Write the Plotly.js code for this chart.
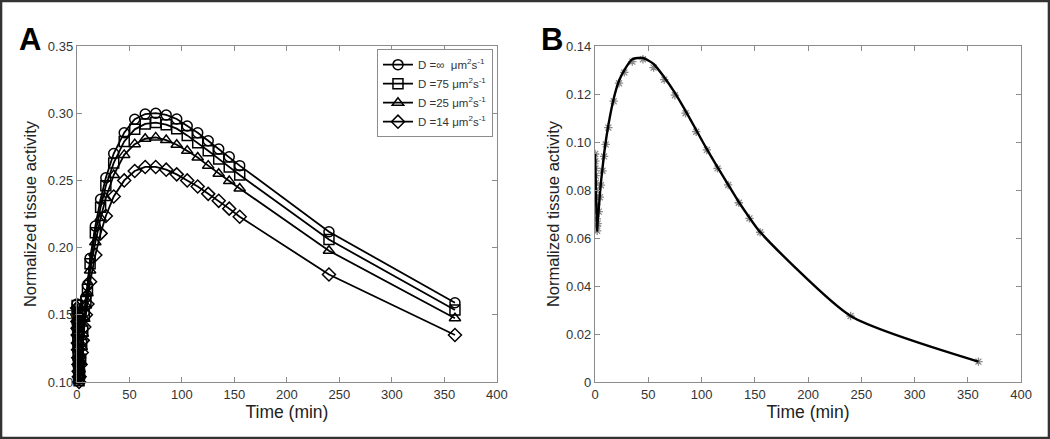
<!DOCTYPE html>
<html>
<head>
<meta charset="utf-8">
<script src="https://cdn.plot.ly/plotly-3.0.1.min.js"></script>
<style>
  html, body { margin: 0; padding: 0; background: #fff; }
  #chart { width: 1050px; height: 439px; }
</style>
</head>
<body>
<div id="chart"></div>
<script>
// Time points (min), shared by both panels
const time = [0.1, 0.25, 0.4, 0.55, 0.7, 0.85, 1.0, 1.2, 1.4, 1.6, 1.8, 2.0,
  2.5, 3.5, 4.5, 5.5, 7, 8.5, 10, 12.5, 17.5, 22.5, 27.5,
  35, 45, 55, 65, 75, 85, 95, 105, 115, 125, 135, 145, 155, 240, 360];

// Panel A: normalized tissue activity for several diffusion coefficients
const seriesNames = ["D =\u221e  \u03bcm<sup>2</sup>s<sup>-1</sup>",
  "D =75 \u03bcm<sup>2</sup>s<sup>-1</sup>",
  "D =25 \u03bcm<sup>2</sup>s<sup>-1</sup>",
  "D =14 \u03bcm<sup>2</sup>s<sup>-1</sup>"];
const seriesSymbols = ["circle-open", "square-open", "triangle-up-open", "diamond-open"];

const dInf = [0.158, 0.153, 0.148, 0.143, 0.138, 0.132, 0.127, 0.121, 0.116, 0.111, 0.106, 0.102,
  0.107, 0.118, 0.130, 0.140, 0.152, 0.163, 0.172, 0.192, 0.216, 0.236, 0.252,
  0.270, 0.2855, 0.2955, 0.2994, 0.300, 0.2987, 0.2957, 0.2905, 0.2855, 0.2795, 0.2734, 0.2676, 0.261, 0.2118, 0.159];
const d75 = [0.157, 0.152, 0.147, 0.142, 0.137, 0.131, 0.126, 0.120, 0.115, 0.110, 0.105, 0.101,
  0.106, 0.117, 0.128, 0.138, 0.150, 0.160, 0.169, 0.188, 0.211, 0.230, 0.246,
  0.263, 0.279, 0.288, 0.292, 0.293, 0.2915, 0.2885, 0.2835, 0.278, 0.272, 0.266, 0.260, 0.254, 0.206, 0.1536];
const d25 = [0.156, 0.151, 0.146, 0.141, 0.136, 0.130, 0.125, 0.119, 0.114, 0.109, 0.104, 0.101,
  0.105, 0.115, 0.126, 0.136, 0.147, 0.157, 0.166, 0.183, 0.204, 0.222, 0.237,
  0.254, 0.269, 0.277, 0.281, 0.282, 0.280, 0.2765, 0.272, 0.267, 0.261, 0.255, 0.2495, 0.244, 0.1977, 0.1474];
const d14 = [0.155, 0.150, 0.145, 0.140, 0.135, 0.129, 0.124, 0.118, 0.113, 0.108, 0.104, 0.100,
  0.104, 0.113, 0.122, 0.131, 0.141, 0.150, 0.158, 0.1746, 0.1945, 0.2106, 0.2235,
  0.238, 0.250, 0.257, 0.260, 0.260, 0.258, 0.2545, 0.250, 0.2455, 0.240, 0.2348, 0.229, 0.223, 0.180, 0.135];

// Panel B: measured activity (markers) and model curve (line)
const measuredB = [0.095, 0.092, 0.089, 0.086, 0.083, 0.080, 0.077, 0.074, 0.071, 0.068, 0.065, 0.063,
  0.066, 0.071, 0.077, 0.082, 0.088, 0.094, 0.099, 0.106, 0.117, 0.1245, 0.129,
  0.1335, 0.1345, 0.131, 0.126, 0.1195, 0.112, 0.1043, 0.0967, 0.089, 0.0821, 0.0747, 0.0682, 0.0624, 0.0275, 0.0085];
const modelB = [0.095, 0.092, 0.089, 0.086, 0.083, 0.080, 0.077, 0.074, 0.071, 0.068, 0.065, 0.063,
  0.067, 0.072, 0.078, 0.083, 0.089, 0.095, 0.100, 0.107, 0.118, 0.1255, 0.130,
  0.1345, 0.135, 0.1325, 0.127, 0.1205, 0.113, 0.105, 0.097, 0.0895, 0.0822, 0.075, 0.0685, 0.0625, 0.0275, 0.0085];

// Tick labels
const xTicks = [0, 50, 100, 150, 200, 250, 300, 350, 400];
const yTicksA = [0.10, 0.15, 0.20, 0.25, 0.30, 0.35];
const yTickTextA = ["0.10", "0.15", "0.20", "0.25", "0.30", "0.35"];
const yTicksB = [0, 0.02, 0.04, 0.06, 0.08, 0.10, 0.12, 0.14];
const yTickTextB = ["0", "0.02", "0.04", "0.06", "0.08", "0.10", "0.12", "0.14"];

const seriesA = [dInf, d75, d25, d14];
const traces = seriesA.map((vals, i) => ({
  type: "scatter", mode: "lines+markers",
  x: time, y: vals, name: seriesNames[i],
  xaxis: "x", yaxis: "y",
  line: { color: "#000", width: 1.8 },
  marker: { symbol: seriesSymbols[i], size: 10, color: "#000", line: { width: 1.5, color: "#000" } },
  cliponaxis: false
}));
traces.push({
  type: "scatter", mode: "markers", x: time, y: measuredB, showlegend: false,
  xaxis: "x2", yaxis: "y2",
  marker: { symbol: "asterisk-open", size: 7, color: "#8a8a8a", line: { width: 1.3, color: "#8a8a8a" } }
});
traces.push({
  type: "scatter", mode: "lines", x: time, y: modelB, showlegend: false,
  xaxis: "x2", yaxis: "y2",
  line: { color: "#000", width: 2.4, shape: "spline", smoothing: 0.6 }
});

const fam = "Liberation Sans, Arial, sans-serif";
const axisFont = { family: fam, size: 13, color: "#333" };
const xTitleFont = { family: fam, size: 17.5, color: "#222" };
const yTitleFont = { family: fam, size: 16.5, color: "#222" };
const baseAxis = {
  showline: true, linecolor: "#8c8c8c", linewidth: 1.2, mirror: "ticks",
  ticks: "inside", ticklen: 5, tickcolor: "#8c8c8c", tickwidth: 1,
  showgrid: false, zeroline: false, tickfont: axisFont, automargin: false
};

const layout = {
  width: 1050, height: 439,
  margin: { l: 0, r: 0, t: 0, b: 0 },
  paper_bgcolor: "#fff", plot_bgcolor: "#fff",
  showlegend: true,
  legend: {
    x: 0.4695, xanchor: "right", y: 0.888, yanchor: "top",
    bordercolor: "#8c8c8c", borderwidth: 1, bgcolor: "#fff",
    font: { family: fam, size: 11.5, color: "#333" },
    itemwidth: 30, tracegroupgap: 0
  },
  xaxis: Object.assign({}, baseAxis, {
    domain: [0.0733, 0.4733], range: [0, 400], tickvals: xTicks,
    anchor: "y", title: { text: "Time (min)", font: xTitleFont, standoff: 2 }
  }),
  yaxis: Object.assign({}, baseAxis, {
    domain: [0.1298, 0.8952], range: [0.10, 0.35], tickvals: yTicksA, ticktext: yTickTextA,
    anchor: "x", title: { text: "Normalized tissue activity", font: yTitleFont, standoff: 7 }
  }),
  xaxis2: Object.assign({}, baseAxis, {
    domain: [0.5667, 0.9724], range: [0, 400], tickvals: xTicks,
    anchor: "y2", title: { text: "Time (min)", font: xTitleFont, standoff: 2 }
  }),
  yaxis2: Object.assign({}, baseAxis, {
    domain: [0.1298, 0.8952], range: [0, 0.14], tickvals: yTicksB, ticktext: yTickTextB,
    anchor: "x2", title: { text: "Normalized tissue activity", font: yTitleFont, standoff: 2 }
  }),
  annotations: [
    { text: "<b>A</b>", xref: "paper", yref: "paper", x: 30 / 1050, y: 1 - 39 / 439,
      xanchor: "center", yanchor: "middle", showarrow: false,
      font: { family: fam, size: 31, color: "#000" } },
    { text: "<b>B</b>", xref: "paper", yref: "paper", x: 552 / 1050, y: 1 - 39 / 439,
      xanchor: "center", yanchor: "middle", showarrow: false,
      font: { family: fam, size: 31, color: "#000" } }
  ],
  shapes: [
    { type: "rect", xref: "paper", yref: "paper", x0: 0.001, x1: 0.999, y0: 0.002, y1: 0.998,
      line: { color: "#333", width: 2.5 } }
  ]
};

Plotly.newPlot("chart", traces, layout, { displayModeBar: false, staticPlot: true });
</script>
</body>
</html>
